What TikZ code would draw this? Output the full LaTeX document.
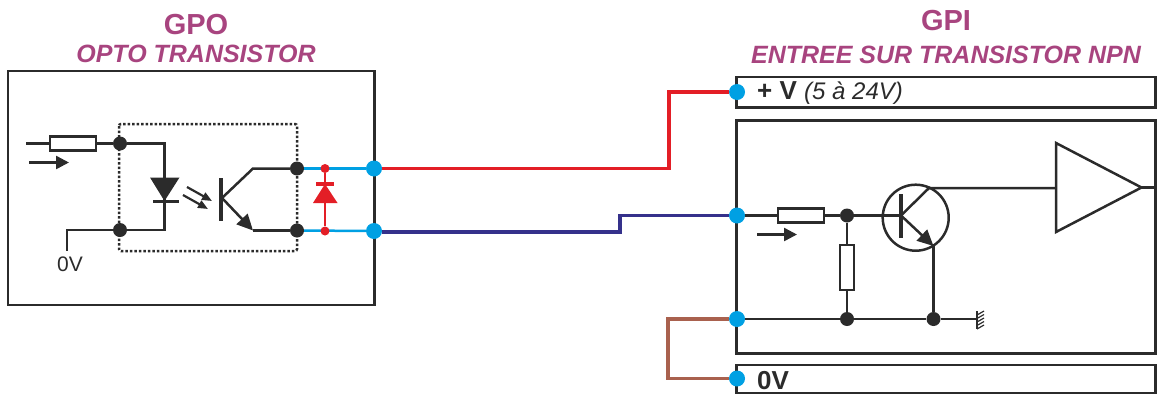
\documentclass[tikz,border=0pt]{standalone}
\usepackage{fontspec}
\setmainfont{Liberation Sans}
\usepackage{xcolor}
\usetikzlibrary{arrows.meta}
\definecolor{titlecol}{HTML}{A8447F}
\definecolor{inkcol}{HTML}{2B2B2B}
\definecolor{cablecol}{HTML}{00A0E3}
\definecolor{redcol}{HTML}{E31E26}
\definecolor{navycol}{HTML}{35318B}
\definecolor{browncol}{HTML}{A9614E}
\tikzset{
    wire/.style={draw=inkcol, line width=2.5pt},
    frame/.style={draw=inkcol, line width=2.2pt},
    res/.style={draw=inkcol, line width=2.5pt, fill=white, rectangle, inner sep=0pt},
    bdot/.style={circle, fill=inkcol, inner sep=0pt, minimum size=14pt},
    cdot/.style={circle, fill=cablecol, inner sep=0pt, minimum size=16pt},
    rdot/.style={circle, fill=redcol, inner sep=0pt, minimum size=9pt},
    flow/.style={draw=inkcol, line width=2.5pt, -{Triangle[length=13pt, width=13pt]}},
    emit/.style={draw=inkcol, line width=2.5pt, -{Triangle[length=16pt, width=15pt]}},
    ray/.style={draw=inkcol, line width=2.2pt, -{Triangle[length=10pt, width=8pt]}},
    head/.style={text=titlecol, font=\bfseries\fontsize{29}{29}\selectfont},
    subhead/.style={text=titlecol, font=\bfseries\itshape\fontsize{25}{25}\selectfont},
    cable/.style={line width=3.5pt}
}
\begin{document}
\begin{tikzpicture}[x=1pt, y=-1pt]
        \useasboundingbox (0, 0) rectangle (1159, 394);

        % titles
        \node[head] (gpoTitle) at (196, 25) {GPO};
        \node[subhead] (gpoSub) at (196, 53.5) {OPTO TRANSISTOR};
        \node[head] (gpiTitle) at (946, 20.5) {GPI};
        \node[subhead] (gpiSub) at (946, 54.5) {ENTREE SUR TRANSISTOR NPN};

        % boxes
        \draw[frame] (8, 71) rectangle (374.5, 305);
        \draw[frame] (736.5, 77) rectangle (1155.5, 107.5);
        \draw[frame] (736.5, 120.5) rectangle (1155.5, 353.5);
        \draw[frame] (736.5, 365) rectangle (1155.5, 393);
        \draw[draw=inkcol, line width=2.5pt, dotted, rounded corners=2pt] (119, 124) rectangle (297, 251);

        \node[anchor=west, inner sep=0pt, font=\fontsize{26}{26}\selectfont, text=inkcol] (vLabel) at (757, 93.5)
            {\textbf{+ V} {\fontsize{24}{24}\selectfont\itshape (5 à 24V)}};
        \node[anchor=west, inner sep=0pt, font=\bfseries\fontsize{26}{26}\selectfont, text=inkcol] (zeroLabel) at (757, 381) {0V};
        \node[font=\fontsize{21}{21}\selectfont, text=inkcol] (zeroIn) at (70, 264) {0V};

        % GPO side
        \coordinate (inL) at (26, 143.5);
        \coordinate (ledTop) at (164.5, 143.5);
        \coordinate (ledBot) at (164.5, 230);
        \coordinate (zeroBend) at (67, 230);
        \coordinate (zeroEnd) at (67, 251);
        \node[res, minimum width=46pt, minimum height=14pt] (resIn) at (73, 143.5) {};
        \node[bdot] (dotA) at (120, 143.5) {};
        \node[bdot] (dotB) at (120, 230) {};
        \node[bdot] (dotC) at (297, 168.5) {};
        \node[bdot] (dotD) at (297, 230.5) {};
        \node[cdot] (outA) at (374, 168.5) {};
        \node[cdot] (outB) at (374, 231) {};

        \draw[wire] (inL) -- (resIn);
        \draw[wire] (resIn) -- (dotA);
        \draw[wire] (dotA) -- (ledTop) -- (ledBot) -- (dotB);
        \draw[wire] (dotB) -- (zeroBend) -- (zeroEnd);
        \coordinate (flowA) at (29, 162.5);
        \coordinate (flowB) at (69, 162.5);
        \draw[flow] (flowA) -- (flowB);

        % led
        \fill[inkcol] (150, 177.5) -- (179.5, 177.5) -- (164.5, 201) -- cycle;
        \draw[wire, line width=3.5pt] (153, 201.5) -- (178.5, 201.5);
        \coordinate (rayA) at (187, 187);
        \coordinate (rayB) at (212, 201);
        \coordinate (rayC) at (183, 195);
        \coordinate (rayD) at (208, 209);
        \draw[ray] (rayA) -- (rayB);
        \draw[ray] (rayC) -- (rayD);

        % opto transistor
        \coordinate (baseOpto) at (222, 198);
        \coordinate (colBend) at (253, 168.5);
        \coordinate (emBend) at (253, 230.5);
        \draw[wire, line width=4pt] (221, 178) -- (221, 221);
        \draw[wire] (baseOpto) -- (colBend) -- (dotC);
        \draw[wire] (emBend) -- (dotD);
        \draw[emit] (baseOpto) -- (emBend);

        % protection diode
        \draw[cablecol, line width=2.5pt] (dotC) -- (outA);
        \draw[cablecol, line width=2.5pt] (dotD) -- (outB);
        \node[rdot] (redA) at (325, 168.5) {};
        \node[rdot] (redB) at (325, 231) {};
        \draw[redcol, line width=2.5pt] (redA) -- (redB);
        \fill[redcol] (313, 203) -- (337.5, 203) -- (325, 184) -- cycle;
        \draw[redcol, line width=3.5pt] (316, 184) -- (334, 184);

        % GPI side
        \node[cdot] (inV) at (737, 92) {};
        \node[cdot] (inSig) at (737, 215.5) {};
        \node[cdot] (inGnd) at (737, 319) {};
        \node[cdot] (inZero) at (737, 378.5) {};
        \node[res, minimum width=46pt, minimum height=14pt] (resB) at (801, 215.5) {};
        \node[res, minimum width=14pt, minimum height=45pt] (resP) at (847, 267.5) {};
        \node[bdot] (dotE) at (847, 215.5) {};
        \node[bdot] (dotF) at (847, 319) {};
        \node[bdot] (dotG) at (933.5, 319) {};
        \node[circle, draw=inkcol, line width=2.5pt, inner sep=0pt, minimum size=66pt] (npn) at (915.7, 217.7) {};

        \draw[wire] (inSig) -- (resB);
        \draw[wire] (resB) -- (dotE);
        \coordinate (baseNpn) at (901, 215.5);
        \draw[wire] (dotE) -- (baseNpn);
        \draw[wire] (dotE) -- (resP);
        \draw[wire] (resP) -- (dotF);
        \draw[wire] (inGnd) -- (dotF);
        \draw[wire] (dotF) -- (dotG);
        \coordinate (gndEnd) at (977, 319);
        \draw[wire] (dotG) -- (gndEnd);
        \coordinate (flowC) at (757, 234.5);
        \coordinate (flowD) at (797, 234.5);
        \draw[flow] (flowC) -- (flowD);

        % transistor
        \coordinate (npnCol) at (929, 188);
        \coordinate (npnEm) at (933.5, 246);
        \coordinate (ampIn) at (1056, 188);
        \coordinate (ampOut) at (1141.5, 187.5);
        \coordinate (boxEdge) at (1155, 187.5);
        \draw[wire, line width=4pt] (901, 194) -- (901, 237.5);
        \draw[wire] (baseNpn) -- (npnCol) -- (ampIn);
        \draw[emit] (baseNpn) -- (npnEm);
        \draw[wire] (npnEm) -- (dotG);
        \draw[wire, line join=miter] (1056, 143) -- (ampOut) -- (1056, 232) -- cycle;
        \draw[wire] (ampOut) -- (boxEdge);

        % masse
        \draw[inkcol, line width=1.2pt] (977, 311) -- (977, 329);
        \foreach \y in {313, 316.5, 320, 323.5, 327} {
            \draw[inkcol, line width=1.2pt] (977, \y+2) -- (984, \y-2);
        }

        % cables
        \coordinate (redBendA) at (669, 168.5);
        \coordinate (redBendB) at (669, 92);
        \draw[redcol, cable] (outA) -- (redBendA) -- (redBendB) -- (inV);
        \coordinate (navyBendA) at (620, 232);
        \coordinate (navyBendB) at (620, 215.5);
        \draw[navycol, cable] (outB.east |- navyBendA) -- (navyBendA) -- (navyBendB) -- (inSig);
        \coordinate (brownBendA) at (668, 319);
        \coordinate (brownBendB) at (668, 378.5);
        \draw[browncol, cable] (inGnd) -- (brownBendA) -- (brownBendB) -- (inZero);
    \end{tikzpicture}
\end{document}
